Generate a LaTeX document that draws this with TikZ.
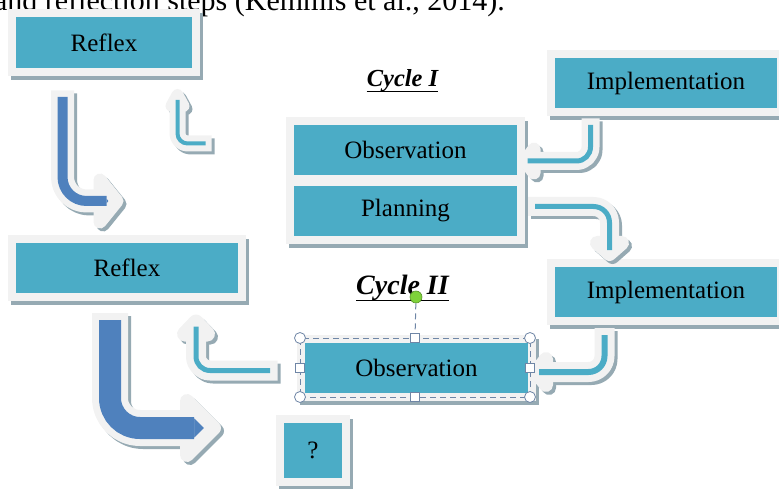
\documentclass[tikz,border=0pt]{standalone}
\usepackage{fontspec}
\setmainfont{Liberation Serif}
\usetikzlibrary{fit, backgrounds, shadows}
\definecolor{acTeal}{HTML}{4BACC6}
\definecolor{acBlue}{HTML}{4F81BD}
\definecolor{acRim}{HTML}{F2F2F2}
\definecolor{acShade}{HTML}{96AAB3}
\definecolor{acHandle}{HTML}{6F86A6}
\definecolor{acGreen}{HTML}{7ED23A}
\tikzset{
  stepbox/.style   = {rectangle, fill=acTeal, draw=acRim, line width=8pt, inner sep=0pt,
                      font=\fontsize{25}{30}\selectfont,
                      drop shadow={shadow xshift=3pt, shadow yshift=-4pt,
                                   fill=acShade, draw=acShade, opacity=1}},
  cellbox/.style   = {rectangle, fill=acTeal, inner sep=0pt, font=\fontsize{25}{30}\selectfont},
  cellframe/.style = {rectangle, fill=acRim, inner sep=7.5pt,
                      drop shadow={shadow xshift=3pt, shadow yshift=-4pt,
                                   fill=acShade, opacity=1}},
  cyclelbl/.style  = {inner sep=0pt, anchor=base},
  flowrim/.style   = {acRim, line join=round},
  flowshade/.style = {acShade, line join=round, shift={(3,3)}},
  selline/.style   = {acHandle, line width=1pt, dash pattern=on 6pt off 4pt},
  cornerhdl/.style = {circle, draw=acHandle, fill=white, line width=0.8pt,
                      minimum size=11pt, inner sep=0pt},
  sidehdl/.style   = {rectangle, draw=acHandle, fill=white, line width=0.8pt,
                      minimum size=9pt, inner sep=0pt},
}

\begin{document}
\begin{tikzpicture}[x=1pt, y=-1pt]
\useasboundingbox (0,0) rectangle (779,489);
\clip (0,0) rectangle (779,489);

% ---- helper: one block arrow (colour, width, rim, shaft, head) ------------
\newcommand{\bentflow}[5]{%
  \draw[flowshade, line width={#2+2*#3}, shorten <=-#3] #4;
  \filldraw[flowshade, line width={2*#3}] #5;
  \draw[flowrim, line width={#2+2*#3}, shorten <=-#3] #4;
  \filldraw[flowrim, fill=#1, line width={2*#3}] #5;
  \draw[#1, line width=#2, shorten >=-#3] #4;
}

% caption line cut by the top edge
\node[anchor=base east, inner sep=0pt, font=\fontsize{30}{32}\selectfont] (caption)
  at (505,11) {and reflection steps (Kemmis et al., 2014).};

% left column
\node[stepbox, minimum width=184pt, minimum height=59pt] (reflexA) at (104,42.5) {Reflex};
\node[stepbox, minimum width=230pt, minimum height=58pt] (reflexB) at (127,268) {Reflex};
\node[stepbox, minimum width=66pt, minimum height=63pt] (query) at (313,450.5) {?};

% cycle I
\node[cellbox, minimum width=223pt, minimum height=50pt] (obsA) at (405.5,150) {Observation};
\node[cellbox, minimum width=223pt, minimum height=50pt] (planA) at (405.5,211) {Planning};
\begin{scope}[on background layer]
  \node[cellframe, fit=(obsA)(planA)] (frameA) {};
\end{scope}
\node[stepbox, minimum width=230pt, minimum height=58pt] (implA) at (666,83) {Implementation};

% cycle II
\node[stepbox, minimum width=230pt, minimum height=58pt] (implB) at (666,292) {Implementation};
\node[stepbox, minimum width=231pt, minimum height=58pt] (obsB) at (416.5,368) {Observation};

% ---- block arrows ----------------------------------------------------------
\bentflow{acBlue}{10}{6.5}{[rounded corners=24pt] (62.5,97) |- (100,201)}
  {(100,180) -- (117,201) -- (100,222) -- cycle}
\bentflow{acBlue}{22}{7}{[rounded corners=30pt] (110,320) |- (187,428)}
  {(187,401) -- (214,428) -- (187,455) -- cycle}
\bentflow{acTeal}{4}{6}{[rounded corners=10pt] (205.5,143.5) -| (177.5,106)}
  {(171.5,106) -- (177.5,95) -- (183.5,106) -- cycle}
\bentflow{acTeal}{5}{6.5}{[rounded corners=14pt] (590.5,125) |- (534,161)}
  {(534,149) -- (525,161) -- (534,173) -- cycle}
\bentflow{acTeal}{5}{7}{[rounded corners=16pt] (535,206.5) -| (609.5,243)}
  {(597,243) -- (609.5,254) -- (622,243) -- cycle}
\bentflow{acTeal}{6}{7}{[rounded corners=16pt] (604.5,335) |- (546,372)}
  {(546,359) -- (536,372) -- (546,385) -- cycle}
\bentflow{acTeal}{5}{7.5}{[rounded corners=14pt] (270,370.5) -| (196,334)}
  {(184.5,334) -- (196,322) -- (207.5,334) -- cycle}

% ---- cycle titles ----------------------------------------------------------
\node[cyclelbl, font=\fontsize{24.5}{28}\selectfont\bfseries\itshape] (cycI) at (402.5,87) {Cycle I};
\draw[line width=1.6pt] ([yshift=-4.5pt]cycI.base west) -- ([yshift=-4.5pt]cycI.base east);
\node[cyclelbl, font=\fontsize{28}{32}\selectfont\bfseries\itshape] (cycII) at (402.5,294.5) {Cycle II};
\draw[line width=1.8pt] ([yshift=-6pt]cycII.base west) -- ([yshift=-6pt]cycII.base east);

% ---- selection handles on the second observation box -------------------------
\node[selline, draw, minimum width=230pt, minimum height=59pt, inner sep=0pt, outer sep=0pt]
  (sel) at (415,367.5) {};
\node[circle, fill=acGreen, draw=acGreen!70!black, line width=0.6pt, minimum size=12pt,
      inner sep=0pt] (rotate) at (416,297) {};
\foreach \a in {north west, north east, south west, south east}
  \node[cornerhdl] (hdl-\a) at (sel.\a) {};
\foreach \a in {north, south, west, east}
  \node[sidehdl] (hdl-\a) at (sel.\a) {};
\draw[selline] (rotate) -- (hdl-north);

\end{tikzpicture}
\end{document}
